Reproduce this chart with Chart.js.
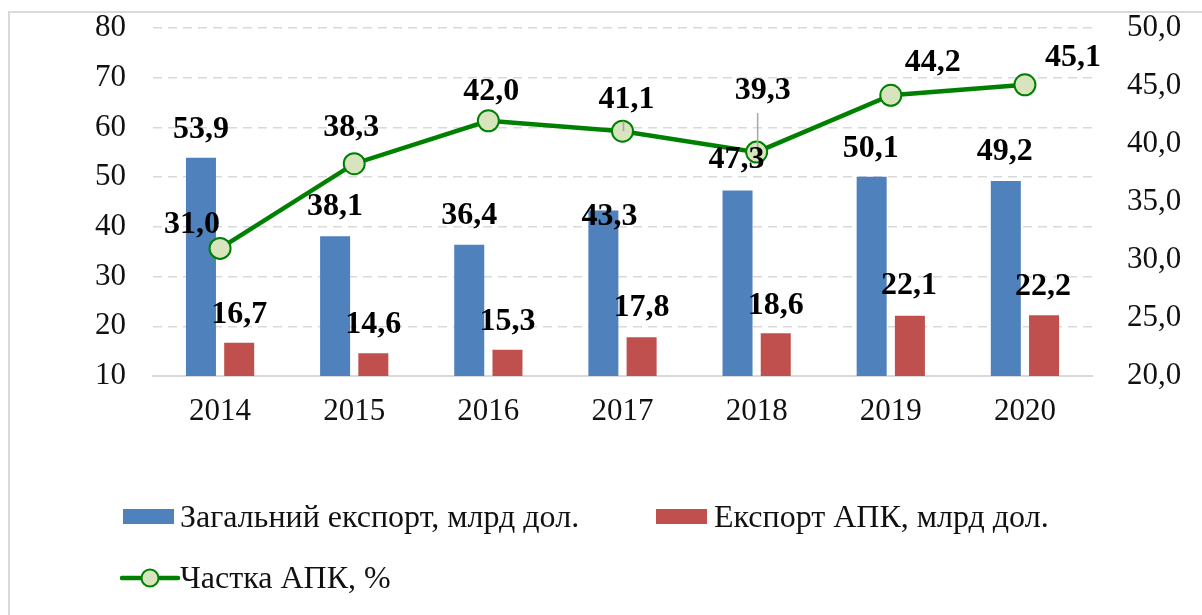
<!DOCTYPE html>
<html>
<head>
<meta charset="utf-8">
<script src="https://cdn.jsdelivr.net/npm/chart.js@4"></script>
<style>
  body { margin: 0; background: #fff; font-family: "Liberation Serif", "Times New Roman", serif; }
  #wrap { position: relative; width: 1202px; height: 615px; overflow: hidden; }
  #frame { position: absolute; left: 8px; top: 11px; width: 1300px; height: 700px;
           border-left: 2px solid #d9d9d9; border-top: 2px solid #d9d9d9; }
  canvas { position: absolute; left: 0; top: 0; }
  .lg { position: absolute; font-size: 32px; line-height: 32px; color: #111; white-space: nowrap; }
  .sw { position: absolute; }
</style>
</head>
<body>
<div id="wrap">
  <div id="frame"></div>
  <canvas id="chart" width="1202" height="615"></canvas>
  <div class="sw" style="left:123px;top:509px;width:51px;height:15px;background:#4f81bd"></div>
  <div class="lg" style="left:180px;top:500px">Загальний експорт, млрд дол.</div>
  <div class="sw" style="left:656px;top:509px;width:51px;height:15px;background:#c0504d"></div>
  <div class="lg" style="left:714px;top:500px">Експорт АПК, млрд дол.</div>
  <svg class="sw" style="left:120px;top:566px" width="62" height="24">
    <line x1="2" y1="12" x2="58" y2="12" stroke="#008000" stroke-width="4.5" stroke-linecap="round"/>
    <circle cx="30" cy="12" r="8.5" fill="#d7e4bd" stroke="#008000" stroke-width="2"/>
  </svg>
  <div class="lg" style="left:180px;top:561px">Частка АПК, %</div>
</div>
<script>
// years on the category axis
const years = ["2014", "2015", "2016", "2017", "2018", "2019", "2020"];
// total export, bn USD
const totalExport = [53.9, 38.1, 36.4, 43.3, 47.3, 50.1, 49.2];
// agri export, bn USD
const agriExport = [16.7, 14.6, 15.3, 17.8, 18.6, 22.1, 22.2];
// agri share, %
const agriShare = [31.0, 38.3, 42.0, 41.1, 39.3, 44.2, 45.1];

// label nudges (px) relative to bar top / point centre, as placed in the original
const nudgeTotal = [[0, -28], [0, -30], [0, -29], [6, 6], [-1, -31], [-1, -28], [-1, -29]];
const nudgeAgri = [[0, -28], [0, -28], [0, -28], [0, -29], [0, -28], [-1, -30], [-1, -29]];
const nudgeShare = [[-28, -24], [-3, -36], [3, -29], [4, -32], [6, -61], [42, -33], [48, -27]];
const leaderShare = [false, false, false, true, true, false, false];

const fmt = v => v.toFixed(1).replace(".", ",");
const serif = "'Liberation Serif', 'Times New Roman', serif";

const dataLabels = {
    id: "dataLabels",
    afterDatasetsDraw(chart) {
        const ctx = chart.ctx;
        const nudges = [nudgeTotal, nudgeAgri, nudgeShare];
        ctx.save();
        // leader lines first
        const lineMeta = chart.getDatasetMeta(2);
        ctx.strokeStyle = "#a6a6a6";
        ctx.lineWidth = 1.5;
        lineMeta.data.forEach((pt, i) => {
            if (!leaderShare[i]) return;
            const ly = pt.y + nudgeShare[i][1] + 22;
            ctx.beginPath();
            ctx.moveTo(pt.x + 1, ly);
            ctx.lineTo(pt.x + 1, pt.y);
            ctx.stroke();
        });
        ctx.font = "bold 32px " + serif;
        ctx.fillStyle = "#000";
        ctx.textAlign = "center";
        ctx.textBaseline = "middle";
        chart.data.datasets.forEach((ds, d) => {
            const meta = chart.getDatasetMeta(d);
            meta.data.forEach((el, i) => {
                const [dx, dy] = nudges[d][i];
                ctx.fillText(fmt(ds.data[i]), el.x + dx, el.y + dy);
            });
        });
        ctx.restore();
    }
};

const tickFont = { family: serif, size: 31 };

// fixed axis widths; drop the extra top/bottom room chart.js reserves for tick labels
const fixWidth = w => s => { s.width = w; s.paddingTop = 0; s.paddingBottom = 0; };

new Chart(document.getElementById("chart"), {
    type: "bar",
    data: {
        labels: years,
        datasets: [
            {
                label: "Загальний експорт, млрд дол.",
                data: totalExport,
                backgroundColor: "#4f81bd",
                barPercentage: 0.785,
                categoryPercentage: 0.57,
                yAxisID: "y",
                order: 2
            },
            {
                label: "Експорт АПК, млрд дол.",
                data: agriExport,
                backgroundColor: "#c0504d",
                barPercentage: 0.785,
                categoryPercentage: 0.57,
                yAxisID: "y",
                order: 2
            },
            {
                type: "line",
                label: "Частка АПК, %",
                data: agriShare,
                borderColor: "#008000",
                borderWidth: 4.5,
                pointRadius: 10.5,
                pointBorderWidth: 2,
                pointBackgroundColor: "#d7e4bd",
                pointBorderColor: "#008000",
                tension: 0,
                yAxisID: "y1",
                order: 1
            }
        ]
    },
    options: {
        responsive: false,
        animation: false,
        layout: { padding: { top: 28, bottom: 179, left: 0, right: 0 } },
        scales: {
            x: {
                grid: { display: false, drawTicks: false },
                border: { display: true, color: "#d9d9d9", width: 2 },
                ticks: { font: tickFont, color: "#111", padding: 17 },
                afterFit: s => { s.height = 60; }
            },
            y: {
                position: "left",
                min: 10,
                max: 80,
                ticks: { stepSize: 10, font: tickFont, color: "#111", padding: 27 },
                grid: {
                    drawTicks: false,
                    lineWidth: 1.5,
                    color: c => (c.tick && c.tick.value === 10) ? "rgba(0,0,0,0)" : "#d9d9d9"
                },
                border: { display: false, dash: [9, 6] },
                afterFit: fixWidth(153)
            },
            y1: {
                position: "right",
                min: 20,
                max: 50,
                ticks: { stepSize: 5, font: tickFont, color: "#111", padding: 35, callback: v => fmt(v) },
                grid: { display: false, drawTicks: false },
                border: { display: false },
                afterFit: fixWidth(110)
            }
        },
        plugins: {
            legend: { display: false },
            tooltip: { enabled: false }
        }
    },
    plugins: [dataLabels]
});
</script>
</body>
</html>
